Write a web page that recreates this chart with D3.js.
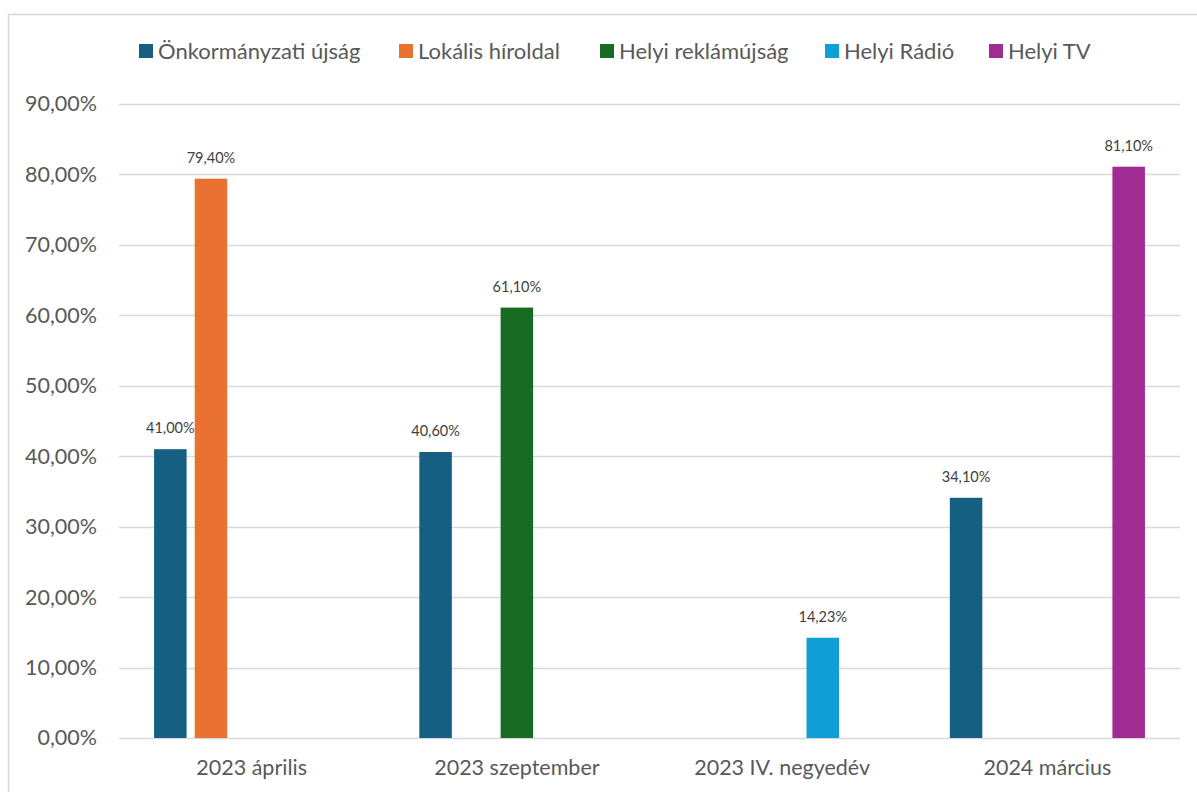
<!DOCTYPE html>
<html><head><meta charset="utf-8">
<script src="https://cdn.jsdelivr.net/npm/d3@7"></script>
<style>body{margin:0;background:#fff;} svg{display:block;font-family:Lato, "Liberation Sans", sans-serif;}</style>
</head><body>
<svg id="c" width="1197" height="792"></svg>
<script>
const categories = ["2023 április", "2023 szeptember", "2023 IV. negyedév", "2024 március"];
const seriesNames = ["Önkormányzati újság", "Lokális híroldal", "Helyi reklámújság", "Helyi Rádió", "Helyi TV"];
const seriesColors = ["#156082", "#E97132", "#196B24", "#0F9ED5", "#A02B93"];
const onkormanyzati = [41.00, 40.60, null, 34.10];
const lokalis = [79.40, null, null, null];
const reklam = [null, 61.10, null, null];
const radio = [null, null, 14.23, null];
const tv = [null, null, null, 81.10];
const seriesValues = [onkormanyzati, lokalis, reklam, radio, tv];
const yTicks = [0, 10, 20, 30, 40, 50, 60, 70, 80, 90];

(function(){
const svg = d3.select("#c");
const fmt = v => v.toFixed(2).replace(".", ",") + "%";
const FS = "21.5px";

svg.append("rect").attr("x", 8.5).attr("y", 14.5).attr("width", 1200).attr("height", 800)
  .attr("fill", "none").attr("stroke", "#d9d9d9").attr("stroke-width", 1.5);

const pL = 119, pR = 1180, pT = 104, pB = 738;
const x0 = d3.scaleBand().domain(categories).range([pL, pR]).paddingInner(0).paddingOuter(0);
const x1 = d3.scaleBand().domain(d3.range(seriesNames.length)).range([31, x0.bandwidth() - 31]).paddingInner(0.2).paddingOuter(0.1);
const y = d3.scaleLinear().domain([0, 90]).range([pB, pT]);

svg.append("g").selectAll("line").data(yTicks).join("line")
  .attr("x1", pL).attr("x2", pR)
  .attr("y1", d => Math.round(y(d)) + 0.5).attr("y2", d => Math.round(y(d)) + 0.5)
  .attr("stroke", "#d9d9d9").attr("stroke-width", 1.5);

const yAxis = d3.axisLeft(y).tickValues(yTicks).tickFormat(fmt).tickSize(0).tickPadding(0);
const ya = svg.append("g").attr("transform", `translate(97,0)`).call(yAxis);
ya.select(".domain").remove();
ya.selectAll("text").attr("fill", "#595959").style("font-size", FS).style("font-family", "Lato, sans-serif");

const xAxis = d3.axisBottom(x0).tickSize(0).tickPadding(0);
const xa = svg.append("g").attr("transform", `translate(0,${pB + 22})`).call(xAxis);
xa.select(".domain").remove();
xa.selectAll("text").attr("fill", "#595959").style("font-size", FS).style("font-family", "Lato, sans-serif");

const groups = svg.append("g").selectAll("g").data(categories).join("g")
  .attr("transform", d => `translate(${x0(d)},0)`);
const items = (ci) => seriesValues.map((vals, si) => ({si, v: vals[ci]})).filter(d => d.v != null);
groups.each(function(cat, ci) {
  const g = d3.select(this);
  const data = items(ci);
  g.selectAll("rect").data(data).join("rect")
    .attr("x", d => x1(d.si)).attr("width", x1.bandwidth())
    .attr("y", d => y(d.v)).attr("height", d => y(0) - y(d.v))
    .attr("fill", d => seriesColors[d.si]);
  g.selectAll("text").data(data).join("text")
    .attr("x", d => x1(d.si) + x1.bandwidth() / 2).attr("y", d => y(d.v) - 16)
    .attr("text-anchor", "middle").attr("fill", "#404040").style("font-size", "14.5px")
    .text(d => fmt(d.v));
});

const legendX = [139, 399, 600, 825, 989];
const lg = svg.append("g").selectAll("g").data(seriesNames).join("g")
  .attr("transform", (d, i) => `translate(${legendX[i]},44)`);
lg.append("rect").attr("width", 14).attr("height", 14).attr("fill", (d, i) => seriesColors[i]);
lg.append("text").attr("x", 19).attr("y", 15).attr("fill", "#595959").style("font-size", "22px").text(d => d);
})();
</script>
</body></html>
